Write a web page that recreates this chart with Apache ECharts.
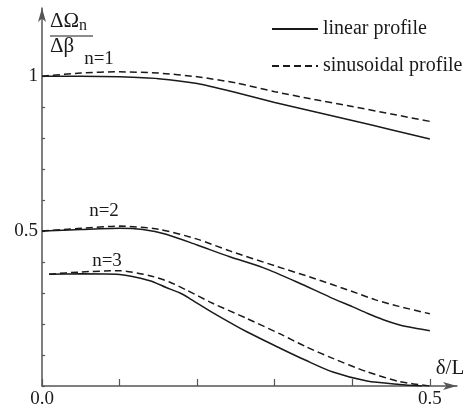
<!DOCTYPE html>
<html>
<head>
<meta charset="utf-8">
<script src="https://cdn.jsdelivr.net/npm/echarts@6/dist/echarts.min.js"></script>
<style>
html,body{margin:0;padding:0;background:#fff;}
#chart{width:474px;height:409px;}
</style>
</head>
<body>
<div id="chart"></div>
<script>
// ---- data ----
const n1LinearX = [0, 0.05, 0.1, 0.15, 0.2, 0.25, 0.3, 0.35, 0.4, 0.45, 0.5];
const n1LinearY = [1.0, 1.0, 0.998, 0.992, 0.976, 0.947, 0.915, 0.886, 0.857, 0.827, 0.797];
const n1SinX = [0, 0.05, 0.1, 0.15, 0.2, 0.25, 0.3, 0.35, 0.4, 0.45, 0.5];
const n1SinY = [1.0, 1.01, 1.014, 1.01, 0.998, 0.978, 0.95, 0.925, 0.902, 0.878, 0.854];

const n2LinearX = [0, 0.05, 0.1, 0.13, 0.16, 0.2, 0.242, 0.285, 0.33, 0.371, 0.4, 0.42, 0.44, 0.46, 0.48, 0.5];
const n2LinearY = [0.5, 0.505, 0.509, 0.505, 0.49, 0.455, 0.417, 0.382, 0.334, 0.287, 0.256, 0.234, 0.214, 0.198, 0.187, 0.178];
const n2SinX = [0, 0.05, 0.1, 0.15, 0.2, 0.242, 0.3, 0.35, 0.4, 0.43, 0.46, 0.5];
const n2SinY = [0.5, 0.509, 0.516, 0.506, 0.474, 0.436, 0.388, 0.348, 0.305, 0.278, 0.257, 0.233];

const n3LinearX = [0.009, 0.05, 0.1, 0.139, 0.16, 0.178, 0.19, 0.22, 0.264, 0.307, 0.34, 0.375, 0.419, 0.461, 0.49];
const n3LinearY = [0.361, 0.362, 0.36, 0.34, 0.318, 0.3, 0.283, 0.237, 0.175, 0.122, 0.083, 0.045, 0.016, 0.005, 0.0];
const n3SinX = [0.009, 0.05, 0.1, 0.139, 0.165, 0.186, 0.22, 0.264, 0.307, 0.34, 0.375, 0.419, 0.461, 0.5];
const n3SinY = [0.361, 0.368, 0.372, 0.356, 0.335, 0.31, 0.267, 0.218, 0.168, 0.127, 0.089, 0.046, 0.014, 0.0];

const xTickValues = [0, 0.1, 0.2, 0.3, 0.4, 0.5];
const xLabelValues = [0, 0.5];
const xLabelTexts = ['0.0', '0.5'];
const yTickValues = [0, 0.1, 0.2, 0.3, 0.4, 0.5, 0.6, 0.7, 0.8, 0.9, 1.0];
const yLabelValues = [0.5, 1.0];
const yLabelTexts = ['0.5', '1'];
const legendNames = ['linear profile', 'sinusoidal profile'];
const curveLabels = ['n=1', 'n=2', 'n=3'];

// ---- build ----
const pairs = (xs, ys) => xs.map((x, i) => [x, ys[i]]);
const FONT = '"Liberation Serif", "DejaVu Serif", serif';
const INK = '#1a1a1a';
const AXIS = '#555';

function line(name, xs, ys, dashed) {
  return {
    type: 'line', name: name, data: pairs(xs, ys),
    symbol: 'none', smooth: 0.25, silent: true,
    lineStyle: { color: INK, width: 1.5, type: dashed ? [7, 4] : 'solid' }
  };
}

const chart = echarts.init(document.getElementById('chart'), null, { renderer: 'canvas' });
chart.setOption({
  animation: false,
  backgroundColor: '#fff',
  grid: { left: 42, right: 17, top: 8, bottom: 23, containLabel: false },
  legend: {
    orient: 'vertical', left: 271, top: 19, itemGap: 17, padding: 0,
    itemWidth: 46, itemHeight: 14, itemStyle: { opacity: 0 },
    data: legendNames,
    textStyle: { fontFamily: FONT, fontSize: 20, color: INK, padding: [0, 0, 0, 0] },
    selectedMode: false
  },
  xAxis: {
    type: 'value', min: 0, max: 0.535, interval: 0.1,
    axisLine: { show: true, lineStyle: { color: AXIS, width: 1.5 }, symbol: ['none', 'arrow'], symbolSize: [6, 14] },
    axisTick: { show: true, inside: true, length: 7, customValues: xTickValues, lineStyle: { color: AXIS, width: 1.2 } },
    axisLabel: {
      show: true, customValues: xLabelValues, margin: 4,
      formatter: v => xLabelTexts[xLabelValues.indexOf(v)] || '',
      fontFamily: FONT, fontSize: 19, color: INK
    },
    splitLine: { show: false }
  },
  yAxis: {
    type: 'value', min: 0, max: 1.22, interval: 0.1,
    axisLine: { show: true, lineStyle: { color: AXIS, width: 1.5 }, symbol: ['none', 'arrow'], symbolSize: [6, 14] },
    axisTick: { show: true, inside: true, length: 3, customValues: yTickValues, lineStyle: { color: AXIS, width: 1.2 } },
    axisLabel: {
      show: true, customValues: yLabelValues, margin: 4,
      formatter: v => yLabelTexts[yLabelValues.indexOf(v)] || '',
      fontFamily: FONT, fontSize: 19, color: INK
    },
    splitLine: { show: false }
  },
  series: [
    line(legendNames[0], n1LinearX, n1LinearY, false),
    line(legendNames[1], n1SinX, n1SinY, true),
    line(legendNames[0], n2LinearX, n2LinearY, false),
    line(legendNames[1], n2SinX, n2SinY, true),
    line(legendNames[0], n3LinearX, n3LinearY, false),
    line(legendNames[1], n3SinX, n3SinY, true)
  ],
  graphic: [
    { type: 'text', left: 50, top: 11, style: {
        text: '{a|ΔΩ}{s|n}', fill: INK,
        rich: { a: { fontFamily: FONT, fontSize: 21, fill: INK }, s: { fontFamily: FONT, fontSize: 16, fill: INK, padding: [8, 0, 0, 0] } }
    } },
    { type: 'line', shape: { x1: 50, y1: 36, x2: 93, y2: 36 }, style: { stroke: INK, lineWidth: 1.2 } },
    { type: 'text', left: 50, top: 36, style: { text: 'Δβ', fontFamily: FONT, fontSize: 21, fill: INK } },
    { type: 'text', x: 99, y: 59, style: { text: curveLabels[0], fontFamily: FONT, fontSize: 19, fill: INK, align: 'center', verticalAlign: 'middle' } },
    { type: 'text', x: 104, y: 211, style: { text: curveLabels[1], fontFamily: FONT, fontSize: 19, fill: INK, align: 'center', verticalAlign: 'middle' } },
    { type: 'text', x: 107, y: 261, style: { text: curveLabels[2], fontFamily: FONT, fontSize: 19, fill: INK, align: 'center', verticalAlign: 'middle' } },
    { type: 'text', x: 450, y: 368, style: { text: 'δ/L', fontFamily: FONT, fontSize: 21, fill: INK, align: 'center', verticalAlign: 'middle' } }
  ]
});
</script>
</body>
</html>
